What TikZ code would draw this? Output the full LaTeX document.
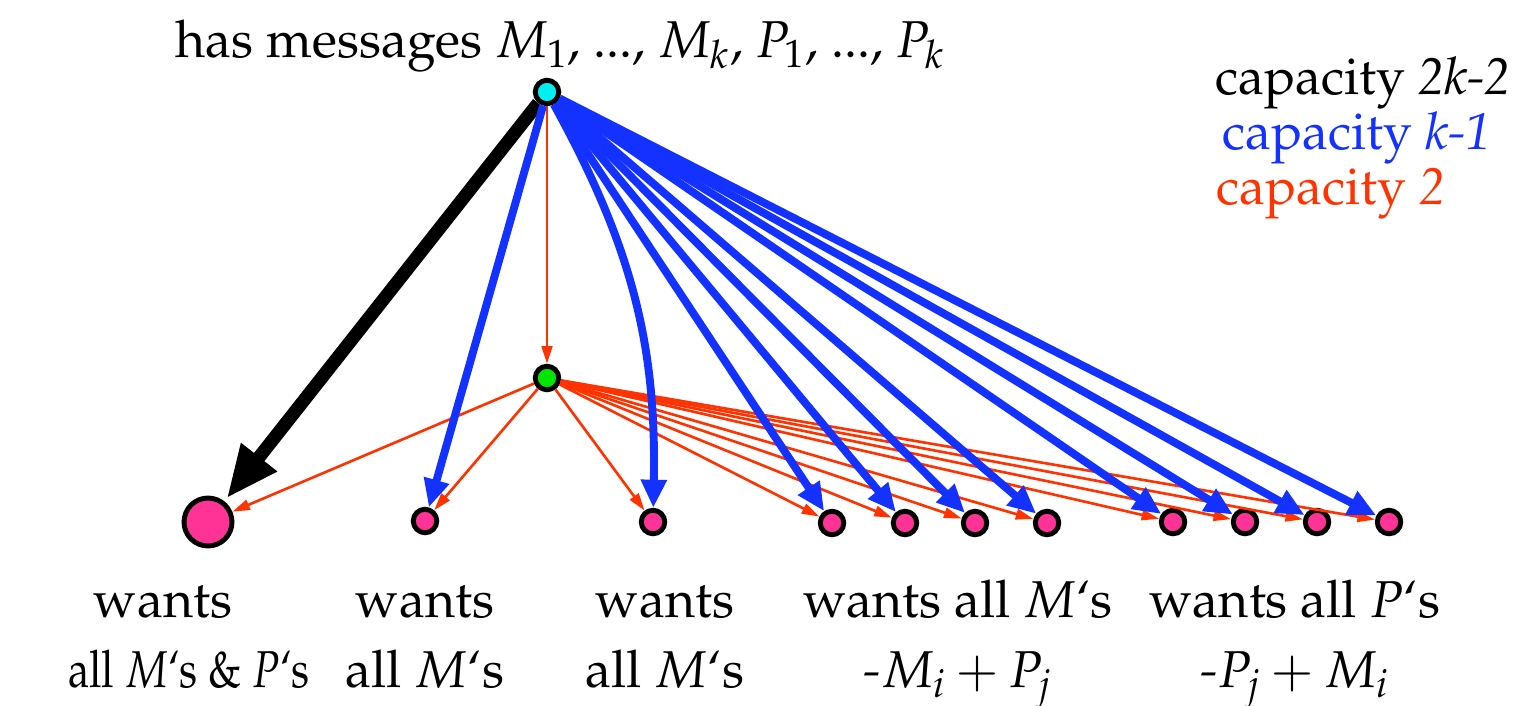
\documentclass[tikz,border=0pt]{standalone}
\usepackage[T1]{fontenc}
\usepackage{mathpazo}
\usetikzlibrary{arrows.meta,positioning}
\definecolor{NodeCyan}{RGB}{0,240,240}
\definecolor{NodeGreen}{RGB}{0,230,0}
\definecolor{NodePink}{RGB}{255,50,150}
\definecolor{CapBlue}{RGB}{20,50,255}
\definecolor{CapRed}{RGB}{255,50,0}
\tikzset{
  % vertices
  vert/.style={circle, draw=black, line width=2.8pt, inner sep=0pt, minimum size=0.47cm},
  srcvert/.style={vert, fill=NodeCyan},
  relayvert/.style={vert, fill=NodeGreen},
  sinkvert/.style={vert, fill=NodePink},
  bigsink/.style={vert, fill=NodePink, minimum size=0.96cm},
  % edges, one style per capacity
  capbig/.style={-{Triangle[length=30pt,width=24pt]}, line width=7.5pt, black, shorten >=2pt},
  capmid/.style={-{Triangle[length=16pt,width=14pt]}, line width=4.5pt, CapBlue},
  capsmall/.style={-{Triangle[length=10pt,width=6pt]}, line width=1.5pt, CapRed},
  % text
  lbl/.style={font=\fontsize{29.5}{39.7}\selectfont, align=center, inner sep=0pt},
}
\begin{document}
\begin{tikzpicture}[x=0.02cm, y=-0.02cm]
  \useasboundingbox (0,0) rectangle (1526,706);

  % vertices
  \node[srcvert] (src) at (547,92) {};
  \node[relayvert] (relay) at (547,378) {};
  \node[bigsink] (all) at (208,522) {};
  \node[sinkvert] (m1) at (425,521) {};
  \node[sinkvert] (m2) at (653,522) {};
  \foreach \i/\x in {1/832,2/905,3/975,4/1047}
    \node[sinkvert] (mp\i) at (\x,523) {};
  \foreach \i/\x in {1/1173,2/1245,3/1317,4/1389}
    \node[sinkvert] (pm\i) at (\x,522) {};

  % edges
  \draw[capbig] (src) -- (all);
  \draw[capsmall] (src) -- (relay);
  \foreach \t in {all,m1,m2,mp1,mp2,mp3,mp4,pm1,pm2,pm3,pm4}
    \draw[capsmall] (relay) -- (\t);
  \draw[capmid] (src) -- (m1);
  \draw[capmid] (src) to[bend left=15] (m2);
  \foreach \t in {mp1,mp2,mp3,mp4,pm1,pm2,pm3,pm4}
    \draw[capmid] (src) -- (\t);

  % texts
  \node[lbl, anchor=base] (head) at (560,58)
    {has messages $M_{1}$, ..., $M_{k}$, $P_{1}$, ..., $P_{k}$};
  \node[lbl, anchor=base west] (capbk) at (1215,95) {capacity \textit{2k-2}};
  \node[lbl, anchor=base west, CapBlue] (capmk) at (1222,150) {capacity \textit{k-1}};
  \node[lbl, anchor=base west, CapRed] (capsk) at (1216,205) {capacity \textit{2}};

  % last line of each label sits near the bottom edge
  \node[lbl, anchor=base] (lball) at (189,687)
    {wants\hspace*{1.04cm}\\\scalebox{0.82}[1]{all $M$`s \& $P$`s}};
  \node[lbl, anchor=base] (lbm1) at (425,687) {wants\\all $M$`s};
  \node[lbl, anchor=base] (lbm2) at (665,687) {wants\\all $M$`s};
  \node[lbl, anchor=base] (lbmp) at (958,687) {wants all $M$`s\\\textit{-}$M_{i}+P_{j}$};
  \node[lbl, anchor=base] (lbpm) at (1295,687) {wants all $P$`s\\\textit{-}$P_{j}+M_{i}$};
\end{tikzpicture}
\end{document}
